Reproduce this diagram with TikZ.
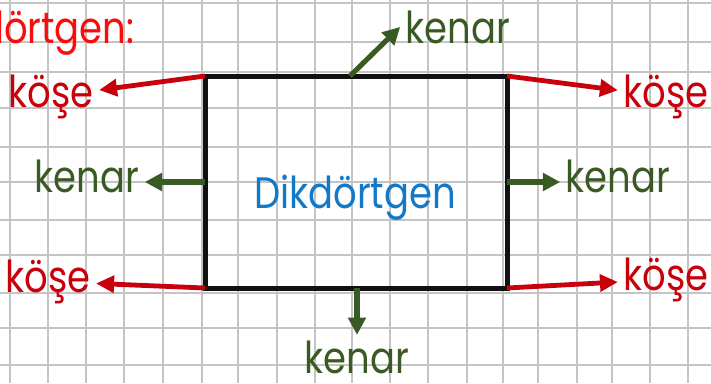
\documentclass[tikz,border=0pt]{standalone}
\usepackage{fontspec}
\usetikzlibrary{arrows.meta,calc}
\newfontfamily\pf[FakeStretch=0.84]{Poppins}
\definecolor{gridc}{RGB}{196,196,196}
\definecolor{darkred}{RGB}{200,0,12}
\definecolor{titlered}{RGB}{250,12,12}
\definecolor{leaf}{RGB}{58,90,35}
\definecolor{bluetxt}{RGB}{18,120,200}
\definecolor{rectblack}{RGB}{17,17,17}
\tikzset{
  gridline/.style={draw=gridc, line width=1.5pt},
  txt/.style={font=\pf\fontsize{33}{36}\selectfont, inner sep=4pt, anchor=base},
  kose/.style={txt, text=darkred},
  kenar/.style={txt, text=leaf},
  redarrow/.style={draw=darkred, line width=3.6pt, -{Triangle[length=13.5pt,width=12.5pt]}},
  greenarrow/.style={draw=leaf, line width=3.8pt, -{Triangle[length=13pt,width=13pt]}},
  rectbox/.style={draw=rectblack, line width=3.75pt, inner sep=0pt, outer sep=0pt,
    minimum width=226.5pt, minimum height=159pt}
}
\begin{document}
\begin{tikzpicture}[x=0.75pt, y=-0.75pt]
\useasboundingbox (0,0) rectangle (711,383);
\clip (0,0) rectangle (711,383);
\fill[white] (0,0) rectangle (711,383);
% grid
\foreach \gy in {3,42,72,108,147,182,220,255,293,328,365}
  \draw[gridline] (0,\gy) -- (711,\gy);
\foreach \gx in {10,48,86,124,163,202,238,277,315,352,390,428,467,503,538,577,612,650,688}
  \draw[gridline] (\gx,0) -- (\gx,383);
% rectangle
\node[rectbox] (rect) at (356,182) {};
\node[txt, text=bluetxt] (lbl) at (355,208) {Dikdörtgen};
% title
\node[txt, text=titlered, anchor=base east] (title) at (140,43) {Dikdörtgen:};
% corner labels
\node[kose] (kTL) at (51,107) {köşe};
\node[kose] (kTR) at (666,107) {köşe};
\node[kose] (kBL) at (48,292) {köşe};
\node[kose] (kBR) at (666,290) {köşe};
% side labels
\node[kenar] (eT) at (458,43) {kenar};
\node[kenar] (eL) at (87,192) {kenar};
\node[kenar] (eR) at (618,192) {kenar};
\node[kenar, inner sep=2pt] (eB) at (357,373) {kenar};
% corner arrows
\draw[redarrow] (rect.north west) -- (kTL);
\draw[redarrow] (rect.north east) -- (kTR);
\draw[redarrow] (rect.south west) -- (kBL);
\draw[redarrow] (rect.south east) -- (kBR);
% side arrows
\draw[greenarrow] ([xshift=-4.5pt]rect.north) -- (eT.west);
\draw[greenarrow] (rect.west) -- (rect.west -| eL.east);
\draw[greenarrow] (rect.east) -- (rect.east -| eR.west);
\draw[greenarrow] (rect.south -| eB.north) -- ([yshift=2pt]eB.north);
\end{tikzpicture}
\end{document}
